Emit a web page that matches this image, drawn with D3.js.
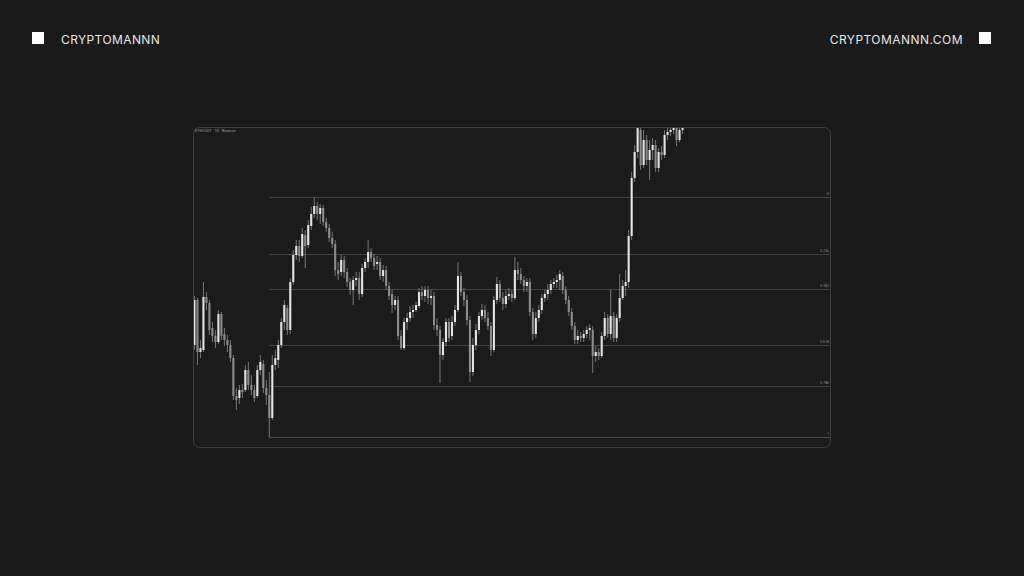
<!DOCTYPE html>
<html><head><meta charset="utf-8">
<script src="https://cdn.jsdelivr.net/npm/d3@7"></script>
<style>html,body{margin:0;padding:0;background:#1a1a1a;}svg{display:block;}</style>
</head><body>
<script>
const opens=[2050,2500,1980,2000,2530,2470,2220,2140,2080,2360,2160,2100,2050,1920,1540,1520,1600,1600,1800,1650,1600,1540,1800,1860,1620,1550,1320,1850,1900,2050,2280,2420,2200,2680,2950,3040,2940,3150,3050,3240,3360,3440,3360,3420,3280,3220,3120,3060,2800,2780,2900,2780,2680,2600,2700,2720,2560,2820,2880,2980,2920,2860,2880,2740,2800,2640,2560,2450,2500,2140,2020,2280,2320,2380,2400,2440,2580,2540,2600,2520,2540,2250,2200,1950,2080,2280,2140,2280,2400,2740,2580,2500,2300,1780,2050,2200,2340,2400,2320,2240,2000,2500,2660,2520,2460,2540,2560,2520,2800,2760,2700,2640,2680,2380,2160,2320,2400,2520,2560,2600,2660,2680,2700,2740,2600,2500,2380,2240,2100,2140,2120,2160,2200,2200,1940,1980,1940,2140,2320,2160,2340,2120,2320,2520,2640,2680,3140,3720,3980,4200,3850,4100,3900,4000,4050,3820,3980,3950,4150,4180,4200,4220,4100,4200];
const closes=[2500,1980,2020,2530,2470,2200,2140,2080,2360,2140,2100,2050,1920,1540,1500,1600,1580,1800,1650,1600,1520,1800,1880,1620,1550,1320,1850,1920,2050,2280,2450,2200,2680,2950,3040,2940,3160,3040,3250,3360,3440,3360,3420,3280,3220,3120,3060,2800,2760,2900,2780,2680,2600,2700,2720,2560,2820,2880,2980,2920,2840,2880,2740,2800,2640,2540,2450,2500,2140,2020,2280,2320,2380,2400,2450,2580,2540,2600,2520,2540,2250,2200,1950,2080,2280,2120,2280,2400,2740,2580,2500,2300,1780,2050,2200,2340,2400,2320,2240,2000,2500,2660,2520,2460,2540,2560,2520,2800,2760,2700,2640,2680,2380,2160,2320,2400,2520,2560,2600,2660,2680,2700,2760,2600,2500,2380,2240,2100,2140,2120,2160,2200,2220,1940,1980,1940,2140,2320,2160,2340,2120,2320,2520,2640,2680,3140,3720,3980,4220,3850,4100,3900,4000,4050,3820,3980,3950,4150,4180,4200,4220,4100,4200,4220];
const highs=[2540,2520,2100,2680,2580,2500,2280,2200,2400,2380,2220,2150,2100,1950,1620,1650,1660,1850,1880,1750,1650,1850,1950,1900,1700,1780,1950,2000,2100,2320,2500,2450,2720,3000,3100,3100,3220,3200,3300,3430,3530,3480,3460,3450,3320,3260,3180,3100,2880,2950,2940,2820,2720,2740,2780,2780,2860,2920,3100,3020,2960,2940,2920,2850,2840,2680,2600,2540,2540,2200,2320,2370,2440,2450,2480,2620,2640,2640,2640,2600,2580,2320,2240,2120,2320,2320,2340,2450,2880,2780,2620,2550,2340,2120,2260,2380,2460,2450,2380,2280,2540,2730,2700,2580,2600,2620,2600,2930,2880,2820,2740,2720,2720,2420,2380,2450,2560,2600,2660,2700,2720,2750,2800,2780,2640,2540,2420,2280,2200,2180,2200,2240,2260,2240,2040,2020,2180,2380,2360,2600,2380,2360,2760,2700,2800,3200,3780,4050,4300,4250,4200,4150,4100,4120,4100,4020,4040,4200,4240,4250,4280,4260,4250,4260];
const lows=[2000,1850,1920,1980,2400,2150,2080,2020,2060,2100,2040,1980,1880,1500,1400,1460,1520,1580,1600,1550,1480,1520,1750,1570,1450,1130,1300,1800,1820,2020,2200,2150,2160,2650,2900,2880,2920,2820,3020,3200,3320,3300,3260,3240,3180,3080,3020,2740,2700,2740,2720,2630,2550,2450,2640,2500,2530,2780,2820,2880,2800,2800,2700,2680,2600,2500,2370,2400,2100,2000,2000,2200,2280,2320,2380,2420,2500,2480,2460,2450,2200,2140,1670,1900,2040,2080,2100,2240,2380,2540,2440,2250,1680,1740,2000,2160,2300,2280,2200,1940,1980,2460,2480,2400,2420,2500,2480,2500,2700,2660,2580,2580,2340,2100,2120,2280,2360,2480,2500,2560,2620,2620,2600,2560,2460,2340,2200,2060,2060,2080,2080,2120,2100,1770,1880,1900,1920,2100,2120,2100,2080,2080,2280,2500,2540,2620,3100,3680,3920,3800,3820,3850,3700,3900,3780,3780,3900,3920,4100,4140,4160,4040,4080,4160];
const fibRatios=[0,0.236,0.382,0.618,0.786,1];
const fibLabels=["0","0.236","0.382","0.618","0.786","1"];
const brandLeft="CRYPTOMANNN";
const brandRight="CRYPTOMANNN.COM";
const chartTitle="ETHUSDT · 1D · Binance";

const W=1024,H=576;
const svg=d3.select("body").append("svg").attr("width",W).attr("height",H);
svg.append("rect").attr("width",W).attr("height",H).attr("fill","#1a1a1a");

// header
svg.append("rect").attr("x",32).attr("y",32).attr("width",12).attr("height",12).attr("fill","#ffffff");
svg.append("rect").attr("x",979).attr("y",32).attr("width",12).attr("height",12).attr("fill","#ffffff");
svg.append("text").attr("x",61).attr("y",44).text(brandLeft)
  .attr("fill","#e6e6e6").attr("font-family","Inter, 'Open Sans', sans-serif").attr("font-size",12).attr("letter-spacing",0.4);
svg.append("text").attr("x",963).attr("y",44).attr("text-anchor","end").text(brandRight)
  .attr("fill","#e6e6e6").attr("font-family","Inter, 'Open Sans', sans-serif").attr("font-size",12).attr("letter-spacing",0.45);

// panel
const px0=193,px1=831,py0=127,py1=448;
svg.append("rect").attr("x",px0+0.5).attr("y",py0+0.5).attr("width",px1-px0-1).attr("height",py1-py0-1)
  .attr("rx",6).attr("fill","#1b1b1b").attr("stroke","#3e3e3e").attr("stroke-width",1);
svg.append("clipPath").attr("id","clip").append("rect").attr("x",px0+1).attr("y",py0+1).attr("width",px1-px0-2).attr("height",py1-py0-2);
const g=svg.append("g").attr("clip-path","url(#clip)");

const n=closes.length;
const data=d3.range(n).map(i=>({i,o:opens[i],c:closes[i],h:highs[i],l:lows[i]}));
const x=d3.scaleBand().domain(d3.range(n)).range([192.5,684.5]).padding(0.3);
const y=d3.scaleLinear().domain([1020,4230]).range([py1,py0]);

// fib from swing low to swing high
const lowIdx=d3.minIndex(lows);
const highIdx=lowIdx+d3.maxIndex(highs.slice(lowIdx,lowIdx+40));
const lo=lows[lowIdx],hi=highs[highIdx];
const fx0=x(lowIdx)+x.bandwidth()/2;
fibRatios.forEach((r,k)=>{
  const v=hi-r*(hi-lo);
  const yy=Math.round(y(v))+0.5;
  g.append("line").attr("x1",fx0).attr("x2",px1-1).attr("y1",yy).attr("y2",yy)
   .attr("stroke",k===fibRatios.length-1?"#4a4a4a":"#444").attr("stroke-width",1);
  g.append("text").attr("x",829).attr("y",yy-2.5).attr("text-anchor","end").text(fibLabels[k])
   .attr("fill","#8a8a8a").attr("font-family","Roboto, sans-serif").attr("font-size",3.6);
});

// candles
const bw=x.bandwidth();
g.selectAll("line.w").data(data).enter().append("line")
  .attr("x1",d=>x(d.i)+bw/2).attr("x2",d=>x(d.i)+bw/2)
  .attr("y1",d=>y(d.h)).attr("y2",d=>y(d.l))
  .attr("stroke","#8e8e8e").attr("stroke-width",0.8);
g.selectAll("rect.b").data(data).enter().append("rect")
  .attr("x",d=>x(d.i)).attr("width",bw)
  .attr("y",d=>y(Math.max(d.o,d.c))).attr("height",d=>Math.max(0.8,Math.abs(y(d.o)-y(d.c))))
  .attr("fill",d=>d.c>=d.o?"#e4e4e4":"#8c8c8c");

svg.append("text").attr("x",195).attr("y",132).text(chartTitle)
  .attr("fill","#9a9a9a").attr("font-family","Roboto, sans-serif").attr("font-size",3.8);
</script>
</body></html>
